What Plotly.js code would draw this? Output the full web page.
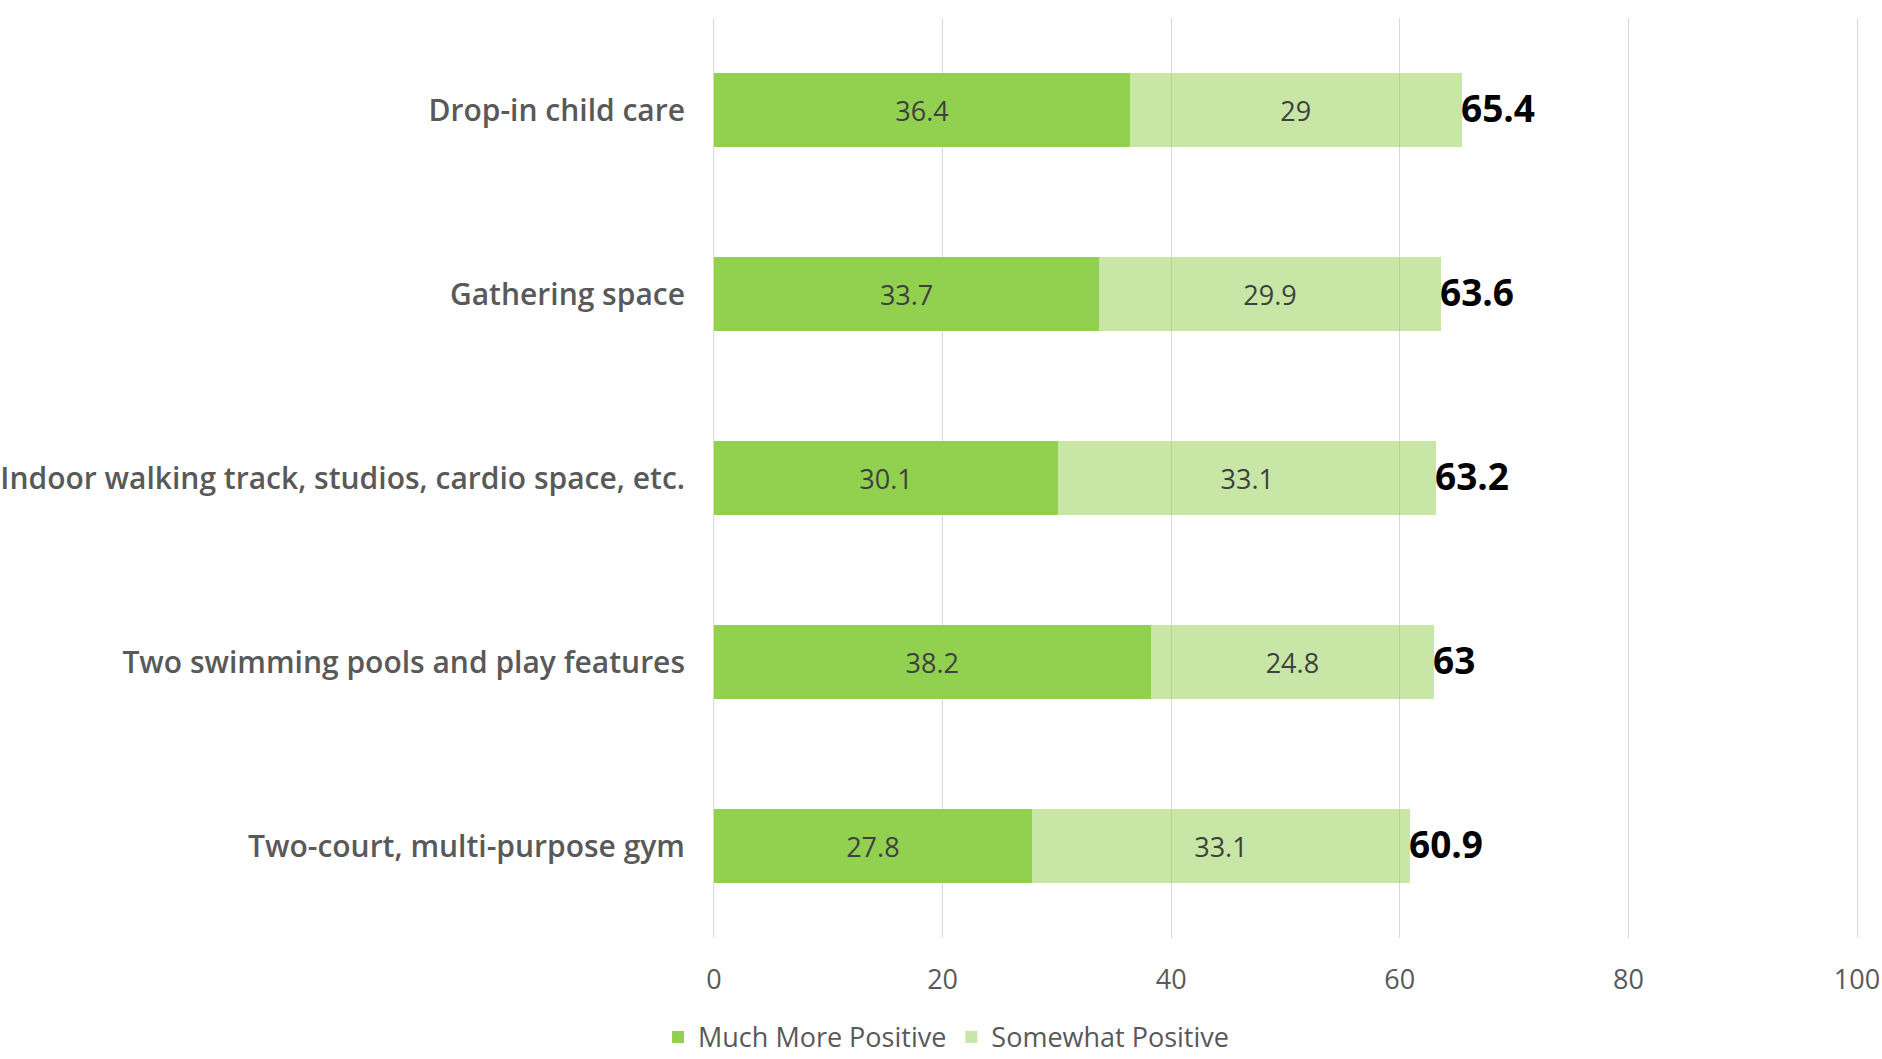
<!DOCTYPE html>
<html>
<head>
<meta charset="utf-8">
<script src="https://cdn.plot.ly/plotly-3.0.1.min.js"></script>
<style>
html,body{margin:0;padding:0;background:#fff;}
#chart{width:1882px;height:1059px;}
</style>
</head>
<body>
<div id="chart"></div>
<script>
const categories = [
  "Drop-in child care",
  "Gathering space",
  "Indoor walking track, studios, cardio space, etc.",
  "Two swimming pools and play features",
  "Two-court, multi-purpose gym"
];
const muchMorePositive = [36.4, 33.7, 30.1, 38.2, 27.8];
const somewhatPositive = [29, 29.9, 33.1, 24.8, 33.1];
const totals = [65.4, 63.6, 63.2, 63, 60.9];
const xTicks = [0, 20, 40, 60, 80, 100];

const innerFont = {family: "Open Sans, sans-serif", size: 27, color: "#404040"};

const traces = [
  {
    type: "bar", orientation: "h", name: "Much More Positive",
    y: categories, x: muchMorePositive,
    text: muchMorePositive.map(String), textposition: "inside",
    insidetextanchor: "middle", textfont: innerFont, constraintext: "none",
    marker: {color: "#92D050"}, hoverinfo: "skip"
  },
  {
    type: "bar", orientation: "h", name: "Somewhat Positive",
    y: categories, x: somewhatPositive,
    text: somewhatPositive.map(String), textposition: "inside",
    insidetextanchor: "middle", textfont: innerFont, constraintext: "none",
    marker: {color: "rgba(146,208,80,0.5)"}, hoverinfo: "skip"
  }
];

const annotations = categories.map((c, i) => ({
  x: totals[i], y: c, xref: "x", yref: "y",
  text: String(totals[i]), showarrow: false,
  xanchor: "left", yanchor: "middle", yshift: 3, xshift: -3,
  font: {family: "Open Sans, sans-serif", size: 37, color: "#000000", weight: 700}
}));

const layout = {
  width: 1882, height: 1059,
  paper_bgcolor: "#ffffff", plot_bgcolor: "#ffffff",
  barmode: "stack", bargap: 0.6,
  margin: {l: 714, r: 25, t: 18, b: 121, autoexpand: false},
  showlegend: true,
  legend: {
    orientation: "h", x: 0.203, xanchor: "center", y: -0.108, yanchor: "middle",
    font: {family: "Open Sans, sans-serif", size: 27, color: "#595959"},
    itemwidth: 30, traceorder: "normal"
  },
  xaxis: {
    range: [0, 100], tickvals: xTicks, ticktext: xTicks.map(String),
    showgrid: true, gridcolor: "#D9D9D9", gridwidth: 1,
    zeroline: false, showline: false, ticks: "",
    ticklabelstandoff: 23,
    tickfont: {family: "Open Sans, sans-serif", size: 27, color: "#595959"}
  },
  yaxis: {
    type: "category", categoryorder: "array", categoryarray: categories,
    autorange: "reversed", showgrid: false, zeroline: false,
    showline: true, mirror: true, linecolor: "#D9D9D9", linewidth: 1,
    ticks: "", ticklabelstandoff: 22,
    tickfont: {family: "Open Sans, sans-serif", size: 30, color: "#595959", weight: 600}
  },
  annotations: annotations
};

Plotly.newPlot("chart", traces, layout, {displayModeBar: false, staticPlot: true});
</script>
</body>
</html>
